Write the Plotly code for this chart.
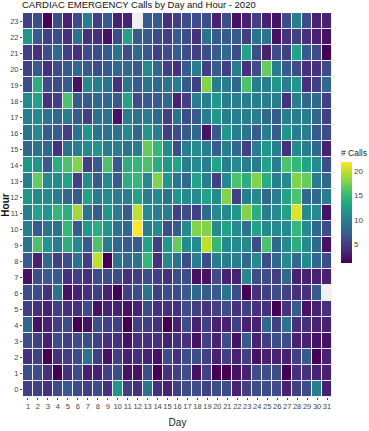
import plotly.graph_objects as go

days = list(range(1, 32))
hours = list(range(0, 24))

calls_h00 = [5,5,4,6,7,6,5,6,4,12,5,4,9,4,3,5,6,6,5,6,6,3,5,6,6,6,3,5,6,10,3]
calls_h01 = [6,6,4,1,4,6,3,3,5,6,2,2,6,1,4,5,6,2,5,1,1,2,3,6,6,6,1,4,4,3,3]
calls_h02 = [4,5,1,4,5,6,9,5,2,5,3,4,3,2,6,4,6,6,5,3,5,3,5,2,3,3,3,5,7,1,3]
calls_h03 = [6,5,3,6,5,6,6,5,4,4,2,4,4,4,3,4,4,2,5,3,6,2,7,3,5,6,6,3,3,2,2]
calls_h04 = [8,2,3,5,6,1,2,6,5,5,1,5,5,4,1,3,6,3,5,3,3,5,3,3,8,5,9,4,4,3,3]
calls_h05 = [5,4,3,5,4,4,6,2,3,3,2,3,6,4,4,4,6,5,4,5,6,4,5,4,4,1,4,7,2,3,4]
calls_h06 = [6,6,4,9,2,3,4,5,3,1,5,6,9,5,6,6,7,8,7,7,9,6,1,4,5,6,5,4,4,7,None]
calls_h07 = [2,6,7,7,4,5,4,6,6,6,4,5,6,5,4,6,6,2,2,6,3,3,11,6,6,5,8,3,3,3,3]
calls_h08 = [7,3,8,5,6,9,5,20,1,9,8,9,15,4,11,9,6,10,6,10,10,10,8,11,6,8,11,8,11,8,6]
calls_h09 = [9,16,12,10,14,11,7,16,10,8,7,7,13,5,12,17,11,11,20,15,11,11,11,6,16,8,11,14,11,8,2]
calls_h10 = [10,7,9,9,15,7,12,14,12,9,8,22,10,11,6,7,11,18,18,11,13,11,9,13,11,11,11,15,11,8,6]
calls_h11 = [10,13,12,15,14,19,9,7,12,10,7,20,11,10,10,5,6,5,8,11,11,12,18,14,10,11,13,21,11,11,2]
calls_h12 = [12,11,11,10,8,7,13,10,11,10,10,13,10,11,9,12,11,11,13,11,18,5,10,11,8,10,13,16,8,8,10]
calls_h13 = [10,17,11,11,13,5,11,7,11,7,14,15,11,18,12,9,8,13,10,5,11,16,14,18,14,10,11,18,17,10,8]
calls_h14 = [12,12,7,14,16,18,5,7,16,7,14,15,16,14,12,13,10,11,10,13,10,11,10,10,13,10,16,15,13,11,6]
calls_h15 = [8,9,8,4,9,10,11,12,10,10,9,10,17,15,11,6,10,11,10,7,10,8,5,10,12,10,4,11,10,8,3]
calls_h16 = [9,11,7,7,5,9,12,9,9,9,11,8,12,10,5,6,7,8,2,7,12,10,9,7,10,7,12,10,10,7,6]
calls_h17 = [10,11,9,8,10,7,5,9,9,2,10,9,10,8,5,9,6,7,10,12,10,10,10,10,8,7,10,10,10,8,5]
calls_h18 = [11,13,4,5,16,7,7,8,8,7,13,6,7,7,8,3,5,10,10,12,10,10,10,10,10,10,4,10,8,8,5]
calls_h19 = [6,14,6,6,7,2,11,10,9,4,9,7,9,8,9,10,7,5,18,10,10,8,16,10,10,12,10,12,4,5,8]
calls_h20 = [5,7,4,6,7,8,7,6,7,8,8,7,11,8,5,4,7,10,5,7,5,10,4,6,17,10,7,6,4,4,6]
calls_h21 = [5,4,6,8,5,4,6,6,7,9,6,8,7,5,6,7,6,5,6,7,8,6,13,6,3,6,5,13,7,6,1]
calls_h22 = [12,7,5,6,4,9,4,4,2,6,13,7,7,6,5,7,6,4,9,7,7,7,5,9,9,2,4,5,4,3,2]
calls_h23 = [5,6,1,6,3,6,10,5,7,3,3,None,7,7,4,5,6,6,6,3,6,2,3,5,3,2,6,10,6,3,3]

z = [calls_h00, calls_h01, calls_h02, calls_h03, calls_h04, calls_h05,
     calls_h06, calls_h07, calls_h08, calls_h09, calls_h10, calls_h11,
     calls_h12, calls_h13, calls_h14, calls_h15, calls_h16, calls_h17,
     calls_h18, calls_h19, calls_h20, calls_h21, calls_h22, calls_h23]

colorbar_ticks = [5, 10, 15, 20]

W, H = 369, 431
ml, mr, mt, mb = 23, 37, 13, 34
pw = W - ml - mr
ph = H - mt - mb

fig = go.Figure(go.Heatmap(
    x=days, y=hours, z=z,
    colorscale="Viridis", zmin=1, zmax=22,
    xgap=1, ygap=1,
    hoverongaps=False,
    colorbar=dict(
        title=dict(text="# Calls", side="top",
                   font=dict(size=8.5, color="#222")),
        thickness=11, len=116 / ph, lenmode="fraction",
        x=(341 - ml) / pw, xanchor="left",
        y=(H - mb - 205) / ph, yanchor="middle",
        outlinewidth=0, tickvals=colorbar_ticks, ticks="",
        tickfont=dict(size=8, color="#444"), ypad=0, xpad=0,
    ),
))

fig.update_layout(
    width=W, height=H,
    margin=dict(l=ml, r=mr, t=mt, b=mb, autoexpand=False),
    paper_bgcolor="white", plot_bgcolor="#f0f0f0",
    font=dict(family="Liberation Sans, Arial, sans-serif", color="#222"),
    title=dict(text="CARDIAC EMERGENCY Calls by Day and Hour - 2020",
               x=22 / W, xanchor="left", xref="container",
               yref="container", y=1 - 5 / H, yanchor="middle",
               font=dict(size=9.5, color="#111")),
)
fig.update_xaxes(
    tickvals=days, ticktext=[str(d) for d in days], range=[0.5, 31.5],
    tickangle=0, automargin=False,
    ticks="outside", ticklen=2, tickcolor="#444",
    tickfont=dict(size=7.5, color="#444"),
    showgrid=False, zeroline=False,
    title=dict(text="Day", font=dict(size=10, color="#222"), standoff=8),
)
fig.update_yaxes(
    tickvals=hours, ticktext=[str(h) for h in hours], range=[-0.5, 23.5],
    automargin=False,
    ticks="outside", ticklen=2, tickcolor="#444",
    tickfont=dict(size=7.5, color="#444"),
    showgrid=False, zeroline=False,
    title=dict(text="<b>Hour</b>", font=dict(size=10, color="#111"), standoff=2),
)

fig.write_html("out.html")
